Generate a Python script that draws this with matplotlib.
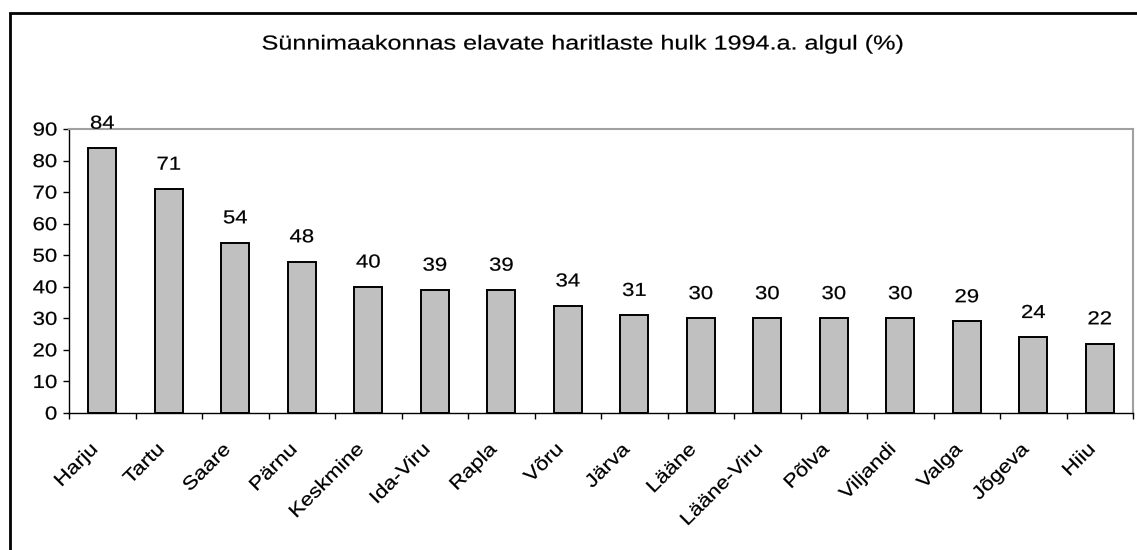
import numpy as np
import matplotlib.pyplot as plt
from matplotlib.patches import Rectangle
from matplotlib.patheffects import AbstractPathEffect
from matplotlib.transforms import Affine2D, ScaledTranslation

plt.rcParams["font.family"] = ["Liberation Sans", "DejaVu Sans"]

# Data
counties = ["Harju", "Tartu", "Saare", "Pärnu", "Keskmine", "Ida-Viru", "Rapla", "Võru",
            "Järva", "Lääne", "Lääne-Viru", "Põlva", "Viljandi", "Valga", "Jõgeva", "Hiiu"]
values = [84, 71, 54, 48, 40, 39, 39, 34, 31, 30, 30, 30, 30, 29, 24, 22]
title = "Sünnimaakonnas elavate haritlaste hulk 1994.a. algul (%)"


class Widen(AbstractPathEffect):
    """Stretch text along its baseline (the reference font runs wide)."""

    def __init__(self, sx, anchor="center", stroke=0.15):
        super().__init__()
        self.sx = sx
        self.anchor = anchor
        self.stroke = stroke

    def draw_path(self, renderer, gc, tpath, affine, rgbFace=None):
        xs = tpath.vertices[:, 0]
        if len(xs) == 0:
            return
        if self.anchor == "right":
            cx = xs.max()
        elif self.anchor == "left":
            cx = xs.min()
        else:
            cx = (xs.min() + xs.max()) / 2
        t = Affine2D().translate(-cx, 0).scale(self.sx, 1).translate(cx, 0)
        gc0 = renderer.new_gc()
        gc0.copy_properties(gc)
        gc0.set_linewidth(self.stroke)
        gc0.set_foreground(rgbFace)
        renderer.draw_path(gc0, tpath, t + affine, rgbFace)
        gc0.restore()


W, H = 1137, 550
fig = plt.figure(figsize=(W / 100, H / 100), dpi=100)

# outer chart frame (cut off at right/bottom like the reference)
fig.patches.append(Rectangle((10 / W, -0.1), 1.2, 1 - 13 / H + 0.1, transform=fig.transFigure,
                             fill=False, edgecolor="black", linewidth=2))

left, right, top, bottom = 69, 1133, 129, 413
ax = fig.add_axes([left / W, 1 - bottom / H, (right - left) / W, (bottom - top) / H])

fs = 13.5
sx = 1.18

x = np.arange(len(counties))
ax.bar(x, values, width=0.42, color="#c0c0c0", edgecolor="black", linewidth=1.4)

for xi, v in zip(x, values):
    ax.annotate(str(v), (xi, v), xytext=(0, 11), textcoords="offset points",
                ha="center", va="bottom", fontsize=fs, path_effects=[Widen(sx)])

ax.set_xlim(-0.5, len(counties) - 0.5)
ax.set_ylim(0, 90)
ax.set_yticks(np.arange(0, 91, 10))
ax.tick_params(axis="y", labelsize=fs, length=4.5, width=1, direction="out", pad=4)
for lab in ax.get_yticklabels():
    lab.set_path_effects([Widen(sx, "right")])

# ticks between categories, labels under bar centers
ax.set_xticks(np.arange(-0.5, len(counties), 1.0))
ax.set_xticklabels([])
ax.tick_params(axis="x", length=4.5, width=1, direction="out")
ax.set_xticks(x, minor=True)
ax.set_xticklabels(counties, minor=True, rotation=45, ha="right", va="center",
                   rotation_mode="anchor", fontsize=fs)
ax.tick_params(axis="x", which="minor", length=0, pad=26)
shift = ScaledTranslation(-7 / 100, 2 / 100, fig.dpi_scale_trans)
for lab in ax.get_xticklabels(minor=True):
    lab.set_path_effects([Widen(sx, "right")])
    lab.set_transform(lab.get_transform() + shift)

for s in ["top", "right"]:
    ax.spines[s].set_color("#a0a0a0")
    ax.spines[s].set_linewidth(1.5)
for s in ["left", "bottom"]:
    ax.spines[s].set_color("black")
    ax.spines[s].set_linewidth(1)

fig.text(583 / W, 1 - 44 / H, title, ha="center", va="center", fontsize=14.5,
         path_effects=[Widen(1.25)])

fig.savefig("out.png", dpi=100)
